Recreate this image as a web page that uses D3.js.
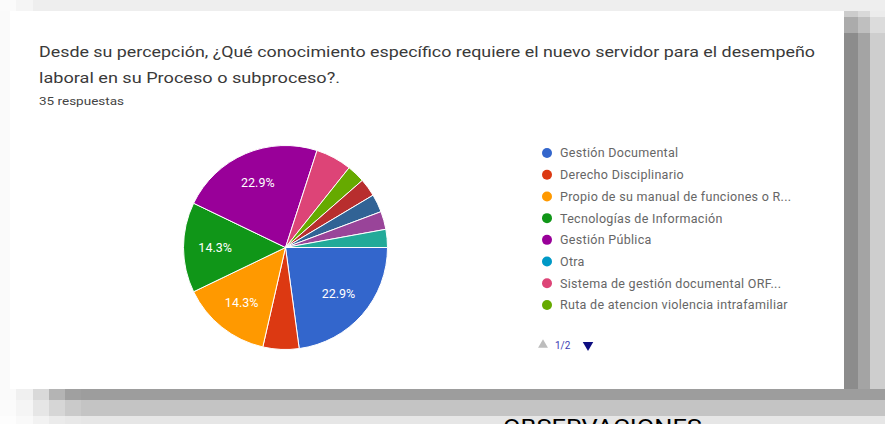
<!DOCTYPE html>
<html>
<head>
<meta charset="utf-8">
<script src="https://cdn.jsdelivr.net/npm/d3@7/dist/d3.min.js"></script>
<style>
  html, body { margin: 0; padding: 0; background: #ffffff; }
  svg { display: block; }
  text { font-family: Roboto, "Noto Sans", sans-serif; }
</style>
</head>
<body>
<svg id="chart" width="885" height="424"></svg>
<script>
// Survey question and answer counts (35 responses)
const titleLines = [
  "Desde su percepción, ¿Qué conocimiento  específico requiere el nuevo servidor para el desempeño",
  "laboral en su Proceso o subproceso?."
];
const responsesLabel = "35 respuestas";
const categories = [
  "Gestión Documental",
  "Derecho Disciplinario",
  "Propio de su manual de funciones o R...",
  "Tecnologías de Información",
  "Gestión Pública",
  "Otra",
  "Sistema de gestión documental ORF...",
  "Ruta de atencion violencia intrafamiliar",
  "Opción 9",
  "Opción 10",
  "Opción 11",
  "Opción 12"
];
const counts = [8, 2, 5, 5, 8, 0, 2, 1, 1, 1, 1, 1];
const palette = [
  "#3366cc", "#dc3912", "#ff9900", "#109618", "#990099", "#0099c6",
  "#dd4477", "#66aa00", "#b82e2e", "#316395", "#994499", "#22aa99"
];
const legendPageSize = 8;
const pagerLabel = "1/2";
const footerLabel = "OBSERVACIONES";

const svg = d3.select("#chart");
const total = d3.sum(counts);

// ---- card frame and its drop shadow ----
const frame = svg.append("g");
// top strip
frame.append("rect").attr("x", 0).attr("y", 0).attr("width", 885).attr("height", 11).attr("fill", "#eeeeee");
frame.append("rect").attr("x", 0).attr("y", 0).attr("width", 16).attr("height", 11).attr("fill", "#fbfbfb");
frame.append("rect").attr("x", 16).attr("y", 0).attr("width", 17).attr("height", 11).attr("fill", "#f5f5f5");
// left margin
frame.append("rect").attr("x", 0).attr("y", 11).attr("width", 10).attr("height", 378).attr("fill", "#fafafa");
// right shadow columns
const rightCols = [
  {x: 844, w: 14, c: "#8c8c8c"},
  {x: 858, w: 12, c: "#a4a4a4"},
  {x: 870, w: 15, c: "#cecece"}
];
rightCols.forEach(d => frame.append("rect").attr("x", d.x).attr("y", 11).attr("width", d.w).attr("height", 378).attr("fill", d.c));
// lighter top of the right shadow
const rightTop = [
  {y: 11, h: 6, c: ["#cccccc", "#d9d9d9", "#ececec"]},
  {y: 17, h: 16, c: ["#ababab", "#bfbfbf", "#dcdcdc"]}
];
rightTop.forEach(r => rightCols.forEach((d, i) =>
  frame.append("rect").attr("x", d.x).attr("y", r.y).attr("width", d.w).attr("height", r.h).attr("fill", r.c[i])));
// bottom shadow rows with faded left end
const bottomRows = [
  {y: 389, h: 11, c: ["#fafafa", "#f0f0f0", "#d9d9d9", "#b4b4b4", "#a0a0a0", "#9d9d9d"]},
  {y: 400, h: 16, c: ["#fbfbfb", "#f5f5f5", "#e6e6e6", "#d6d6d6", "#cacaca", "#c4c4c4"]},
  {y: 416, h: 8,  c: ["#fdfdfd", "#f9f9f9", "#f2f2f2", "#ebebeb", "#e8e8e8", "#e6e6e6"]}
];
const stops = [0, 16, 33, 49, 65, 81, 885];
bottomRows.forEach(r => {
  for (let i = 0; i < 6; i++) {
    frame.append("rect").attr("x", stops[i]).attr("y", r.y)
      .attr("width", stops[i + 1] - stops[i]).attr("height", r.h).attr("fill", r.c[i]);
  }
});
// white card
frame.append("rect").attr("x", 10).attr("y", 11).attr("width", 834).attr("height", 378).attr("fill", "#ffffff");

// ---- heading ----
svg.append("text").attr("x", 39).attr("y", 57).attr("font-size", 15).attr("fill", "#3a3a3a")
  .attr("textLength", 776).attr("lengthAdjust", "spacingAndGlyphs").text(titleLines[0]);
svg.append("text").attr("x", 39).attr("y", 83).attr("font-size", 15).attr("fill", "#3a3a3a")
  .attr("textLength", 301).attr("lengthAdjust", "spacingAndGlyphs").text(titleLines[1]);
svg.append("text").attr("x", 39).attr("y", 105).attr("font-size", 10.5).attr("fill", "#444444")
  .attr("textLength", 85).attr("lengthAdjust", "spacingAndGlyphs").text(responsesLabel);

// ---- pie ----
const cx = 285.5, cy = 247.5, R = 102;
const pie = d3.pie().sort(null).value(d => d)
  .startAngle(Math.PI / 2).endAngle(Math.PI / 2 + 2 * Math.PI);
const arcs = pie(counts);
const arc = d3.arc().innerRadius(0).outerRadius(R);
const labelArc = d3.arc().innerRadius(R * 0.69).outerRadius(R * 0.69);
const color = d3.scaleOrdinal().domain(d3.range(categories.length)).range(palette);

const g = svg.append("g").attr("transform", `translate(${cx},${cy})`);
g.selectAll("path").data(arcs.filter(d => d.value > 0)).join("path")
  .attr("d", arc)
  .attr("fill", d => color(d.index))
  .attr("stroke", "#ffffff").attr("stroke-width", 1);

const pct = d3.format(".1f");
g.selectAll("text").data(arcs.filter(d => d.value / total >= 0.1)).join("text")
  .attr("transform", d => `translate(${labelArc.centroid(d)})`)
  .attr("text-anchor", "middle").attr("dy", "0.35em")
  .attr("font-size", 12.5).attr("fill", "#ffffff")
  .text(d => pct(d.value / total * 100) + "%");

// ---- legend (first page) ----
const legendRows = d3.range(legendPageSize);
const ly = d3.scalePoint().domain(legendRows).range([153, 305]);
const legend = svg.append("g");
const item = legend.selectAll("g").data(legendRows).join("g")
  .attr("transform", i => `translate(547,${ly(i)})`);
item.append("circle").attr("r", 5).attr("fill", i => color(i));
item.append("text").attr("x", 13).attr("dy", "0.35em").attr("font-size", 12.5)
  .attr("letter-spacing", 0.3)
  .attr("fill", "#666666").text(i => categories[i]);

// pager
const pager = svg.append("g").attr("transform", "translate(0,345)");
pager.append("path").attr("d", d3.symbol(d3.symbolTriangle, 42)())
  .attr("transform", "translate(543,0)").attr("fill", "#bdbdbd");
pager.append("text").attr("x", 555).attr("dy", "0.35em").attr("font-size", 10)
  .attr("fill", "#3b3bb3").text(pagerLabel);
pager.append("path").attr("d", d3.symbol(d3.symbolTriangle, 48)())
  .attr("transform", "translate(588,0) rotate(180)").attr("fill", "#0d0d80");

// ---- caption below the card ----
svg.append("text").attr("x", 503).attr("y", 435).attr("font-size", 22)
  .attr("font-family", "Lato, 'Open Sans', sans-serif").attr("fill", "#000000")
  .attr("textLength", 199).attr("lengthAdjust", "spacingAndGlyphs").text(footerLabel);
</script>
</body>
</html>
